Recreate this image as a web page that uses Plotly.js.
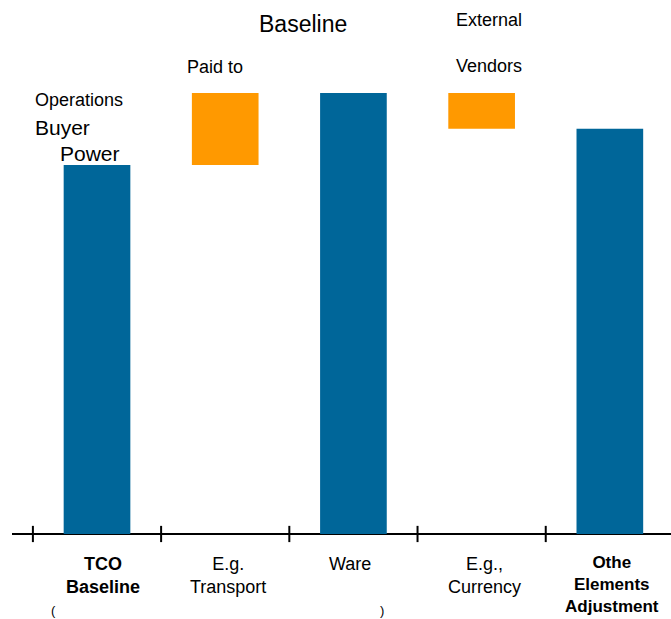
<!DOCTYPE html>
<html>
<head>
<meta charset="utf-8">
<script src="https://cdn.plot.ly/plotly-3.0.1.min.js"></script>
<style>html,body{margin:0;padding:0;background:#fff;}#chart{width:671px;height:619px;}</style>
</head>
<body>
<div id="chart"></div>
<script>
// ---- data ----
const categories = ['TCO Baseline', 'E.g. Transport', 'Ware', 'E.g., Currency', 'Othe Elements Adjustment'];
const tickLabels = ['<b>TCO<br>Baseline</b>', 'E.g.<br>Transport', 'Ware', 'E.g.,<br>Currency', '<b>Othe<br>Elements<br>Adjustment</b>'];
const totals = [100, null, 119.5, null, 109.8];
const stepBase = [null, 100, null, 119.5, null];
const stepDelta = [null, 19.5, null, -9.7, null];
const boundaries = [-0.5, 0.5, 1.5, 2.5, 3.5];

// ---- styling / layout helpers ----
const W = 671, H = 619;
const FONT = 'Liberation Sans, Arial, sans-serif';
const px = x => (x - 12) / (W - 12);
const py = y => 1 - y / H;

const traces = [
  {type: 'bar', x: categories, y: totals, width: 0.52,
   marker: {color: '#006699'}, hoverinfo: 'skip'},
  {type: 'bar', x: categories, y: stepDelta, base: stepBase, width: 0.52,
   marker: {color: '#FF9900'}, hoverinfo: 'skip'}
];

const annotations = [];
function txt(text, x, y, size, xanchor) {
  annotations.push({text: text, xref: 'paper', yref: 'paper', x: px(x), y: py(y),
    xanchor: xanchor || 'center', yanchor: 'middle', showarrow: false,
    font: {family: FONT, size: size, color: '#000'}});
}
txt('Baseline', 303, 24, 23);
txt('External', 489, 20, 18);
txt('Vendors', 489, 66, 18);
txt('Paid to', 214.5, 67, 18);
txt('Operations', 33, 100, 18, 'left');
txt('Buyer', 33, 128, 21, 'left');
txt('Power', 58, 153, 21, 'left');
txt('(', 53, 610, 13);
txt(')', 382, 610, 13);

const labelOffsets = [0.05, 0.02, -0.03, 0.02, 0.02];
const labelSizes = [18, 18, 18, 18, 17];
const labelTops = [552, 552, 552, 552, 551];
categories.forEach((c, i) => {
  annotations.push({text: tickLabels[i], xref: 'x', yref: 'paper',
    x: i + labelOffsets[i], y: py(labelTops[i]), xanchor: 'center', yanchor: 'top',
    showarrow: false, align: 'center',
    font: {family: FONT, size: labelSizes[i], color: '#000'}});
});

const shapes = boundaries.map(b => ({type: 'line', xref: 'x', yref: 'y',
  x0: b, x1: b, y0: -2.2, y1: 2.2, line: {color: '#000', width: 2}}));

const layout = {
  width: W, height: H,
  margin: {l: 12, r: 0, t: 0, b: 0},
  paper_bgcolor: '#fff', plot_bgcolor: '#fff',
  showlegend: false, barmode: 'overlay',
  font: {family: FONT},
  xaxis: {type: 'category', range: [-0.663, 4.477], visible: false, fixedrange: true},
  yaxis: {range: [-23.04, 144.72], showgrid: false, showticklabels: false, ticks: '',
          zeroline: true, zerolinecolor: '#000', zerolinewidth: 2, fixedrange: true},
  annotations: annotations,
  shapes: shapes
};

Plotly.newPlot('chart', traces, layout, {displayModeBar: false, staticPlot: true});
</script>
</body>
</html>
